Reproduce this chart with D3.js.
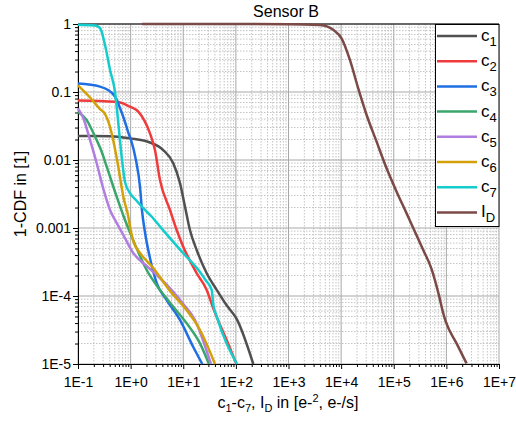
<!DOCTYPE html>
<html>
<head>
<meta charset="utf-8">
<script src="https://cdn.jsdelivr.net/npm/d3@7"></script>
<style>
  body { margin: 0; background: #fff; }
  text { font-family: "Liberation Sans", Arial, sans-serif; fill: #000; }
</style>
</head>
<body>
<svg id="chart" width="516" height="427"></svg>
<script>
// values (x in e-^2 or e-/s, y = 1-CDF)
const c1X = [0.1, 0.406, 0.973, 2.33, 4.17, 6.46, 8.66, 10.8, 13.4, 18, 27.9, 43.2, 66.8, 103.5, 214];
const c1Y = [0.0225, 0.0224, 0.0208, 0.0181, 0.014, 0.00894, 0.00459, 0.00206, 0.000935, 0.000475, 0.000216, 0.000123, 7.3e-5, 4.6e-5, 1e-5];
const c2X = [0.1, 0.262, 0.575, 0.973, 1.4, 1.87, 2.33, 2.9, 3.61, 5.6, 7.5, 10, 18, 27.9, 37.2, 69.2, 102.6];
const c2Y = [0.075, 0.0737, 0.0713, 0.0608, 0.0513, 0.0366, 0.0247, 0.014, 0.00508, 0.00184, 0.000935, 0.000531, 0.000216, 0.000123, 6.59e-5, 2.11e-5, 1e-5];
const c3X = [0.1, 0.262, 0.372, 0.505, 0.628, 0.782, 0.91, 1.016, 1.26, 1.51, 1.64, 1.87, 2.33, 3.13, 4.84, 8.66, 15.5, 23];
const c3Y = [0.133, 0.12, 0.107, 0.0853, 0.0582, 0.0362, 0.0249, 0.0197, 0.01, 0.004, 0.00184, 0.000874, 0.000362, 0.000155, 8.73e-5, 4.44e-5, 1.78e-5, 1e-5];
const c4X = [0.1, 0.146, 0.184, 0.226, 0.274, 0.351, 0.543, 0.782, 1.05, 1.3, 2.02, 3.61, 6.46, 11.6, 20.8, 30.8];
const c4Y = [0.0508, 0.0387, 0.0276, 0.0197, 0.014, 0.00797, 0.00289, 0.00131, 0.000745, 0.000502, 0.000241, 0.000123, 6.97e-5, 3.97e-5, 2.01e-5, 1e-5];
const c5X = [0.1, 0.126, 0.169, 0.226, 0.303, 0.406, 0.543, 0.726, 1.12, 2.02, 3.61, 6.46, 10, 16.7, 20.8, 33.6];
const c5Y = [0.0575, 0.0415, 0.0197, 0.00904, 0.00375, 0.00184, 0.00119, 0.000789, 0.000429, 0.000276, 0.000184, 0.000115, 7.63e-5, 4.44e-5, 2.96e-5, 1e-5];
const c6X = [0.1, 0.169, 0.262, 0.326, 0.377, 0.436, 0.575, 0.726, 0.904, 1.016, 1.16, 1.51, 2.69, 5.6, 10, 20.8, 40.1];
const c6Y = [0.125, 0.083, 0.0562, 0.0475, 0.0366, 0.0247, 0.00844, 0.00289, 0.00147, 0.000874, 0.000601, 0.000429, 0.000258, 0.000119, 7.13e-5, 3.16e-5, 1e-5];
const c7X = [0.1, 0.21, 0.262, 0.326, 0.406, 0.505, 0.601, 0.686, 0.782, 0.973, 1.26, 1.72, 2.55, 3.94, 9.9, 20.8, 26.5, 34.7, 37.2, 43.2, 105];
const c7Y = [0.976, 0.95, 0.873, 0.49, 0.211, 0.1, 0.0276, 0.01, 0.00475, 0.00327, 0.00258, 0.00197, 0.00145, 0.00097, 0.00043, 0.000225, 0.000172, 0.000123, 7.5e-5, 5e-5, 1e-5];
const idX = [1.64, 1000, 4000, 7080, 10200, 14690, 21130, 30500, 47210, 73110, 113300, 175400, 234400, 363100, 523600, 721100, 871000, 979000, 1563000, 2420000];
const idY = [1, 0.995, 0.97, 0.82, 0.616, 0.296, 0.113, 0.0459, 0.0186, 0.00755, 0.00342, 0.00164, 0.001, 0.000475, 0.000249, 0.000103, 5.57e-5, 4.15e-5, 2.01e-5, 1.02e-5];

const seriesNames = ["c1", "c2", "c3", "c4", "c5", "c6", "c7", "ID"];
const xTickLabels = ["1E-1", "1E+0", "1E+1", "1E+2", "1E+3", "1E+4", "1E+5", "1E+6", "1E+7"];
const yTickLabels = ["1E-5", "1E-4", "0.001", "0.01", "0.1", "1"];

const colors = ["#505050", "#ef3b3b", "#1f6fe3", "#3aa66b", "#b07de0", "#d4a008", "#14cccc", "#7b4a47"];
const xs = [c1X, c2X, c3X, c4X, c5X, c6X, c7X, idX];
const ys = [c1Y, c2Y, c3Y, c4Y, c5Y, c6Y, c7Y, idY];
const series = seriesNames.map((name, i) => ({
  name, color: colors[i],
  points: xs[i].map((x, j) => ({ x, y: ys[i][j] }))
}));

const svg = d3.select("#chart");
const plotL = 78, plotR = 499, plotT = 24, plotB = 364;

const x = d3.scaleLog().domain([1e-1, 1e7]).range([plotL, plotR]);
const y = d3.scaleLog().domain([1e-5, 1]).range([plotB, plotT]);

const xMajor = d3.range(-1, 8).map(e => Math.pow(10, e));
const yMajor = d3.range(-5, 1).map(e => Math.pow(10, e));
const xMinor = [], yMinor = [];
for (let e = -1; e < 7; e++) for (let m = 2; m < 10; m++) xMinor.push(m * Math.pow(10, e));
for (let e = -5; e < 0; e++) for (let m = 2; m < 10; m++) yMinor.push(m * Math.pow(10, e));

// grid: minor dotted, major solid
const grid = svg.append("g");
grid.selectAll(".gxm").data(xMinor).enter().append("line")
  .attr("x1", d => x(d)).attr("x2", d => x(d)).attr("y1", plotT).attr("y2", plotB)
  .attr("stroke", "#c4c4c4").attr("stroke-dasharray", "1.5,1.5");
grid.selectAll(".gym").data(yMinor).enter().append("line")
  .attr("x1", plotL).attr("x2", plotR).attr("y1", d => y(d)).attr("y2", d => y(d))
  .attr("stroke", "#c4c4c4").attr("stroke-dasharray", "1.5,1.5");
grid.selectAll(".gx").data(xMajor).enter().append("line")
  .attr("x1", d => x(d)).attr("x2", d => x(d)).attr("y1", plotT).attr("y2", plotB)
  .attr("stroke", "#a8a8a8");
grid.selectAll(".gy").data(yMajor).enter().append("line")
  .attr("x1", plotL).attr("x2", plotR).attr("y1", d => y(d)).attr("y2", d => y(d))
  .attr("stroke", "#a8a8a8");

// axes
svg.append("g").attr("transform", `translate(0,${plotB})`)
  .call(d3.axisBottom(x).tickValues(xMajor).tickFormat((d, i) => xTickLabels[i])
    .tickSize(5).tickPadding(8).tickSizeOuter(0));
svg.append("g").attr("transform", `translate(0,${plotB})`)
  .call(d3.axisBottom(x).tickValues(xMinor).tickFormat("").tickSize(3).tickSizeOuter(0))
  .select(".domain").remove();
svg.append("g").attr("transform", `translate(${plotL},0)`)
  .call(d3.axisLeft(y).tickValues(yMajor).tickFormat((d, i) => yTickLabels[i])
    .tickSize(5).tickPadding(2).tickSizeOuter(0));
svg.append("g").attr("transform", `translate(${plotL},0)`)
  .call(d3.axisLeft(y).tickValues(yMinor).tickFormat("").tickSize(3).tickSizeOuter(0))
  .select(".domain").remove();
svg.selectAll(".tick text").style("font-size", "14px").attr("fill", "#000");
svg.selectAll(".domain, .tick line").attr("stroke", "#000");

// top frame line
svg.append("line").attr("x1", plotL).attr("x2", plotR).attr("y1", plotT).attr("y2", plotT)
  .attr("stroke", "#000").attr("stroke-width", 1.2);

// curves
const line = d3.line().x(d => x(d.x)).y(d => y(d.y)).curve(d3.curveMonotoneX);
svg.append("g").selectAll("path").data(series).enter().append("path")
  .attr("d", d => line(d.points))
  .attr("fill", "none").attr("stroke", d => d.color)
  .attr("stroke-width", 2.5).attr("stroke-linejoin", "round");

// legend
const lg = svg.append("g");
lg.append("rect").attr("x", 435.5).attr("y", 24.5).attr("width", 63.5).attr("height", 202)
  .attr("fill", "#fff").attr("stroke", "#000");
const rowY = i => 36 + i * 25.2;
series.forEach((s, i) => {
  lg.append("line").attr("x1", 437).attr("x2", 477).attr("y1", rowY(i)).attr("y2", rowY(i))
    .attr("stroke", s.color).attr("stroke-width", 2.5);
  const t = lg.append("text").attr("x", 481).attr("y", rowY(i) + 5).style("font-size", "17px");
  t.append("tspan").text(s.name === "ID" ? "I" : "c");
  t.append("tspan").attr("dy", 5).style("font-size", "13px").text(s.name.slice(1));
});

// title and axis labels
svg.append("text").attr("x", 286).attr("y", 17).attr("text-anchor", "middle")
  .style("font-size", "16px").text("Sensor B");

svg.append("text").attr("transform", "translate(26,194) rotate(-90)")
  .attr("text-anchor", "middle").style("font-size", "16px").text("1-CDF in [1]");

const xl = svg.append("text").attr("x", 288).attr("y", 408).attr("text-anchor", "middle")
  .style("font-size", "16px");
xl.append("tspan").text("c");
xl.append("tspan").attr("dy", 4).style("font-size", "11px").text("1");
xl.append("tspan").attr("dy", -4).text("-c");
xl.append("tspan").attr("dy", 4).style("font-size", "11px").text("7");
xl.append("tspan").attr("dy", -4).text(", I");
xl.append("tspan").attr("dy", 4).style("font-size", "11px").text("D");
xl.append("tspan").attr("dy", -4).text(" in [e-");
xl.append("tspan").attr("dy", -6).style("font-size", "11px").text("2");
xl.append("tspan").attr("dy", 6).text(", e-/s]");
</script>
</body>
</html>
